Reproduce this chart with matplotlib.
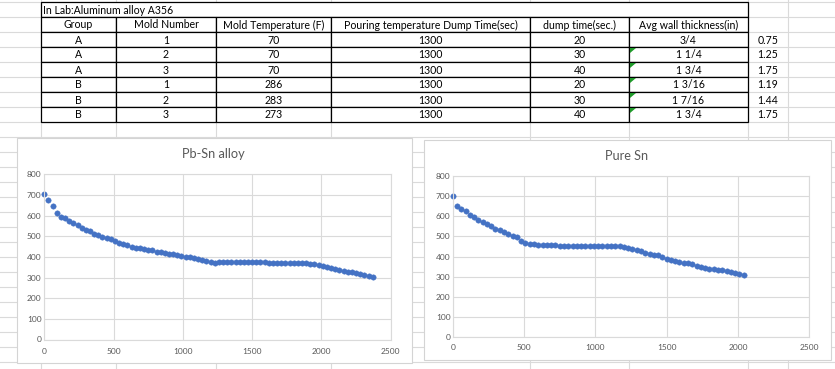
import matplotlib
matplotlib.use("Agg")
import matplotlib.pyplot as plt
from matplotlib.patches import Rectangle, Polygon

# ---------------- data ----------------
table_title = "In Lab:Aluminum alloy A356"
headers = ["Group", "Mold Number", "Mold Temperature (F)",
           "Pouring temperature Dump Time(sec)", "dump time(sec.)",
           "Avg wall thickness(in)"]
groups = ["A", "A", "A", "B", "B", "B"]
mold_numbers = [1, 2, 3, 1, 2, 3]
mold_temps = [70, 70, 70, 286, 283, 273]
pouring_temps = [1300, 1300, 1300, 1300, 1300, 1300]
dump_times = [20, 30, 40, 20, 30, 40]
wall_thickness_text = ["3/4", "1 1/4", "1 3/4", "1 3/16", "1 7/16", "1 3/4"]
wall_thickness = [0.75, 1.25, 1.75, 1.19, 1.44, 1.75]

pbsn_title = "Pb-Sn alloy"
pbsn_time = list(range(0, 2400, 30))[:80]
pbsn_temp = [703, 676, 647, 611, 592, 587, 574, 565, 553, 539,
             531, 526, 511, 505, 495, 490, 485, 476, 469, 461,
             456, 450, 444, 442, 437, 432, 431, 426, 423, 419,
             416, 413, 408, 403, 400, 398, 395, 390, 385, 381,
             374, 371, 373, 375, 375, 375, 375, 375, 375, 375,
             375, 375, 375, 374, 371, 370, 370, 370, 370, 370,
             370, 370, 370, 370, 368, 365, 360, 357, 352, 347,
             340, 337, 330, 327, 325, 322, 317, 312, 307, 305]

sn_title = "Pure Sn"
sn_time = list(range(0, 2070, 30))
sn_temp = [703, 654, 639, 625, 609, 599, 584, 574, 564, 554,
           539, 531, 524, 514, 504, 499, 479, 469, 464, 460,
           455, 455, 455, 455, 455, 452, 451, 451, 451, 451,
           451, 451, 451, 451, 451, 452, 452, 453, 453, 452,
           446, 441, 436, 431, 428, 418, 413, 408, 405, 398,
           390, 385, 380, 375, 370, 366, 361, 354, 349, 344,
           339, 338, 334, 331, 326, 321, 316, 313, 307]

x_ticks = [0, 500, 1000, 1500, 2000, 2500]
y_ticks = [0, 100, 200, 300, 400, 500, 600, 700, 800]

# ---------------- layout ----------------
W, H = 835, 369
FONT = "Lato"
GRID = "#dadada"
TXT = "#595959"
BLUE = "#4472C4"

fig = plt.figure(figsize=(W / 100, H / 100), dpi=100)
bg = fig.add_axes([0, 0, 1, 1])
bg.set_xlim(0, W)
bg.set_ylim(H, 0)
bg.axis("off")

col_edges = [41, 116, 216, 331, 530, 629, 748]
extra_right = 788
row_top = 2
row_h = 15
row_edges = [row_top + row_h * i for i in range(9)]

# spreadsheet gridlines
for x in col_edges + [extra_right]:
    bg.plot([x, x], [0, H], color=GRID, lw=0.8, zorder=1)
y = row_top - row_h
while y < H:
    bg.plot([0, W], [y, y], color=GRID, lw=0.8, zorder=1)
    y += row_h

# merged title cell
bg.add_patch(Rectangle((col_edges[0], row_edges[0]), col_edges[-1] - col_edges[0],
                       row_h, facecolor="white", edgecolor="black", lw=0.9, zorder=3))
bg.text(col_edges[0] + 2, row_edges[0] + row_h / 2 + 0.5, table_title, fontsize=7.6,
        family=FONT, ha="left", va="center", zorder=4)

rows = [headers] + [[g, str(m), str(t), str(p), str(d), w]
                    for g, m, t, p, d, w in zip(groups, mold_numbers, mold_temps,
                                                pouring_temps, dump_times,
                                                wall_thickness_text)]
for r, row in enumerate(rows):
    y0 = row_edges[r + 1]
    for c, val in enumerate(row):
        x0, x1 = col_edges[c], col_edges[c + 1]
        bg.add_patch(Rectangle((x0, y0), x1 - x0, row_h, facecolor="white",
                               edgecolor="black", lw=0.9, zorder=3))
        bg.text((x0 + x1) / 2, y0 + row_h / 2 + 0.5, val, fontsize=7.6, family=FONT,
                ha="center", va="center", zorder=4)
    if r >= 2:
        fx = col_edges[5]
        bg.add_patch(Polygon([(fx + 1, y0 + 1), (fx + 7, y0 + 1), (fx + 1, y0 + 6)],
                             closed=True, facecolor="#1f9a2a", edgecolor="none", zorder=5))

for r, v in enumerate(wall_thickness):
    y0 = row_edges[r + 2]
    bg.text((col_edges[-1] + extra_right) / 2, y0 + row_h / 2 + 0.5, f"{v:.2f}",
            fontsize=7.6, family=FONT, ha="center", va="center", zorder=4)

# ---------------- charts ----------------
def chart(box, plot, title, title_pos, t, v, xpad, ypad):
    bx0, by0, bx1, by1 = box
    bg.add_patch(Rectangle((bx0, by0), bx1 - bx0, by1 - by0, facecolor="white",
                           edgecolor="#d4d4d4", lw=0.8, zorder=6))
    bg.text(title_pos[0], title_pos[1], title, fontsize=9.2, family=FONT, color=TXT,
            ha="center", va="center", zorder=7)
    px0, py0, px1, py1 = plot
    ax = fig.add_axes([px0 / W, (H - py1) / H, (px1 - px0) / W, (py1 - py0) / H])
    ax.set_facecolor("none")
    ax.set_xlim(0, 2500)
    ax.set_ylim(0, 800)
    ax.set_xticks(x_ticks)
    ax.set_yticks(y_ticks)
    ax.grid(True, color=GRID, lw=0.8)
    ax.set_axisbelow(True)
    for s in ax.spines.values():
        s.set_color(GRID)
        s.set_linewidth(0.8)
    ax.tick_params(length=0, labelsize=6.0, labelcolor=TXT)
    ax.tick_params(axis="x", pad=xpad)
    ax.tick_params(axis="y", pad=ypad)
    for lab in ax.get_xticklabels() + ax.get_yticklabels():
        lab.set_family(FONT)
    ax.plot(t, v, "o", ms=3.9, color=BLUE, mec=BLUE, mew=0.3, clip_on=False)
    return ax

chart((17, 138, 412, 363), (44.3, 174.3, 390.7, 339.5), pbsn_title, (213, 153.5),
      pbsn_time, pbsn_temp, 5.8, 2.0)
chart((424, 140, 831, 360), (452.7, 176.3, 809.3, 336.7), sn_title, (627, 155.5),
      sn_time, sn_temp, 5.3, 1.5)

fig.savefig("out.png", dpi=100)
